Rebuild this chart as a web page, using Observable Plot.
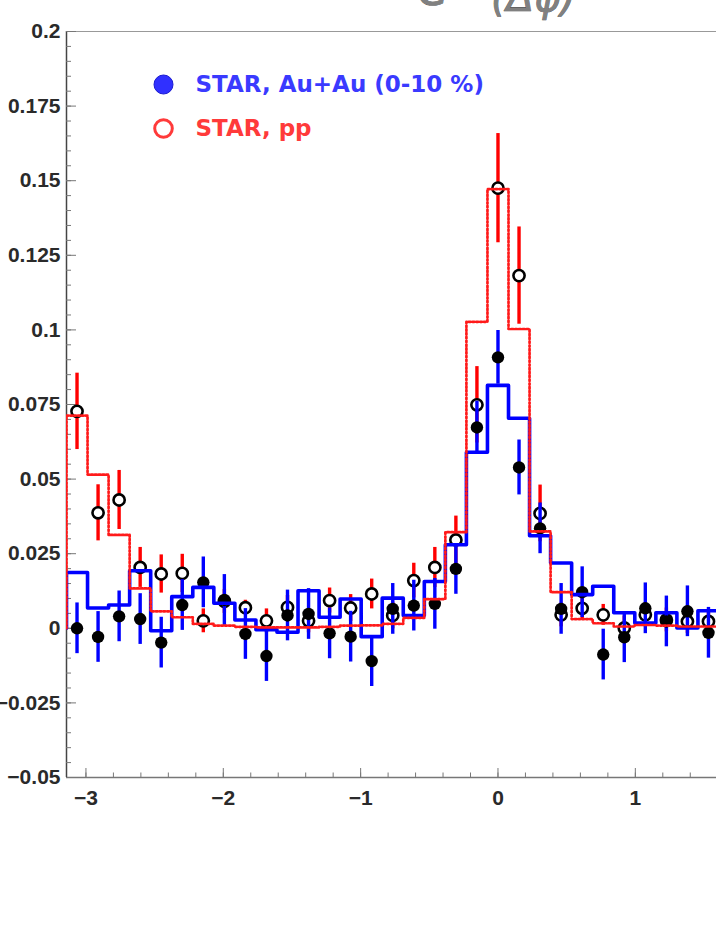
<!DOCTYPE html>
<html><head><meta charset="utf-8">
<script src="https://cdn.jsdelivr.net/npm/d3@7"></script>
<script src="https://cdn.jsdelivr.net/npm/@observablehq/plot@0.6"></script>
<style>html,body{margin:0;padding:0;background:#fff;overflow:hidden}</style>
</head><body><div id="chart"></div>
<script>
// Δφ histogram: 41 bins over 2π, centre bin at 0; first 31 bins visible
const nBinsFull = 41;
const binIndex = d3.range(31);

// STAR Au+Au (0-10%) points and errors
const auau = [0.0000,-0.0029,0.0040,0.0031,-0.0048,0.0078,0.0154,0.0095,-0.0019,-0.0093,
  0.0043,0.0048,-0.0017,-0.0028,-0.0110,0.0065,0.0076,0.0082,0.0199,0.0673,
  0.0908,0.0539,0.0335,0.0065,0.0121,-0.0088,-0.0030,0.0067,0.0023,0.0057,-0.0015];
const auauErr = [0.0085,0.0085,0.0085,0.0085,0.0085,0.0085,0.0085,0.0085,0.0085,0.0085,
  0.0085,0.0085,0.0085,0.0085,0.0085,0.0085,0.0085,0.0085,0.0085,0.0088,
  0.0090,0.0092,0.0085,0.0085,0.0085,0.0085,0.0085,0.0085,0.0085,0.0085,0.0085];

// STAR pp points and errors
const pp = [0.0727,0.0387,0.0430,0.0204,0.0182,0.0184,0.0025,0.0090,0.0069,0.0025,
  0.0070,0.0025,0.0093,0.0068,0.0115,0.0043,0.0160,0.0204,0.0296,0.0749,
  0.1475,0.1182,0.0385,0.0045,0.0067,0.0045,0.0001,0.0045,0.0028,0.0023,0.0023];
const ppErr = [0.0128,0.0094,0.0099,0.0067,0.0064,0.0064,0.0040,0.0040,0.0025,0.0040,
  0.0040,0.0040,0.0042,0.0045,0.0050,0.0045,0.0058,0.0067,0.0080,0.0128,
  0.0183,0.0163,0.0095,0.0040,0.0040,0.0035,0.0040,0.0040,0.0040,0.0040,0.0040];

// Model histograms
const auauHist = [0.0187,0.0068,0.0078,0.0193,-0.0008,0.0106,0.0137,0.0084,0.0028,-0.0005,
  -0.0013,0.0126,0.0037,0.0098,-0.0028,0.0101,0.0043,0.0157,0.0280,0.0590,
  0.0814,0.0704,0.0310,0.0219,0.0113,0.0141,0.0052,0.0018,0.0052,0.0001,0.0059];
const ppHist = [0.0713,0.0515,0.0313,0.0134,0.0057,0.0037,0.0015,0.0009,0.0005,0.0003,
  0.0003,0.0003,0.0005,0.0009,0.0010,0.0015,0.0035,0.0098,0.0322,0.1027,
  0.1472,0.1003,0.0325,0.0121,0.0031,0.0017,0.0006,0.0011,0.0009,0.0006,0.0006];

// Axis ticks
const yMajor = [-0.05,-0.025,0,0.025,0.05,0.075,0.1,0.125,0.15,0.175,0.2];
const yMinor = d3.range(-50,201,5).map(v => v/1000);
const xMajor = [-3,-2,-1,0,1];
const xMinor = d3.range(-30,15,2).map(v => v/10);

const legendLabels = ["STAR, Au+Au (0-10 %)", "STAR, pp"];
const titleParts = ["C", "(Δφ)"];

const W = 716, H = 926, mL = 66, mT = 31, mB = 149, mR = 0;
const xMin = -Math.PI, xMax = 1.591;
const binW = 2*Math.PI/nBinsFull;
const center = k => -Math.PI + (k+0.5)*binW;
const edge = k => -Math.PI + k*binW;

const pts = binIndex.map(k => ({x:center(k), au:auau[k], auE:auauErr[k], pp:pp[k], ppE:ppErr[k]}));
function stepData(vals){
  const s = [{x:edge(0), y:0}];
  vals.forEach((v,k)=> s.push({x:edge(k), y:v}));
  s.push({x:edge(vals.length), y:vals[vals.length-1]});
  return s;
}
const frameW = W - mL - mR, frameH = H - mT - mB;
const fmt = d => d === 0 ? "0" : String(+d.toFixed(3)).replace("-", "\u2212");

const plot = Plot.plot({
  width: W, height: H,
  marginLeft: mL, marginTop: mT, marginBottom: mB, marginRight: mR,
  x: {domain: [xMin, xMax]},
  y: {domain: [-0.05, 0.2]},
  style: {fontFamily: "Liberation Sans, Arial, sans-serif", fontSize: "21px", color: "#222", background: "#fff"},
  marks: [
    // frame lines
    Plot.ruleY([0.2], {stroke: "#999", strokeWidth: 1.2}),
    Plot.ruleY([-0.05], {stroke: "#777", strokeWidth: 1.5}),
    Plot.ruleX([xMin], {stroke: "#444", strokeWidth: 1.5}),
    // inward ticks
    Plot.tickY(yMinor, {y: d=>d, stroke: "#777", insetRight: frameW - 5}),
    Plot.tickY(yMajor, {y: d=>d, stroke: "#777", insetRight: frameW - 10}),
    Plot.tickX(xMinor, {x: d=>d, stroke: "#777", insetTop: frameH - 4.5}),
    Plot.tickX(xMajor, {x: d=>d, stroke: "#777", insetTop: frameH - 9}),
    Plot.axisY({ticks: yMajor, tickSize: 0, tickPadding: 6, tickFormat: fmt, label: null, fill: "#2a2a2a", fontWeight: "bold"}),
    Plot.axisX({ticks: xMajor, tickSize: 0, tickPadding: 13, tickFormat: fmt, label: null, fill: "#2a2a2a", fontWeight: "bold"}),
    // pp points
    Plot.ruleX(pts, {x: "x", y1: d=>d.pp-d.ppE, y2: d=>d.pp+d.ppE, stroke: "#ff0000", strokeWidth: 3.4}),
    Plot.dot(pts, {x: "x", y: "pp", r: 5.6, stroke: "#000", strokeWidth: 2.6, fill: "#fff"}),
    // Au+Au points
    Plot.ruleX(pts, {x: "x", y1: d=>d.au-d.auE, y2: d=>d.au+d.auE, stroke: "#0000ff", strokeWidth: 3.4}),
    Plot.dot(pts, {x: "x", y: "au", r: 6.2, fill: "#000"}),
    // histograms
    Plot.line(stepData(auauHist), {x: "x", y: "y", curve: "step-after", stroke: "#0000ff", strokeWidth: 3.6, clip: true}),
    Plot.line(stepData(ppHist), {x: "x", y: "y", curve: "step-after", stroke: "#ff1a1a", strokeWidth: 2.7, strokeDasharray: "1.8,2", clip: true}),
    // legend
    Plot.dot([0], {frameAnchor: "top-left", dx: 97, dy: 53, r: 9.5, fill: "#3030ff", stroke: "#1a1ad0", strokeWidth: 1}),
    Plot.dot([0], {frameAnchor: "top-left", dx: 97, dy: 97, r: 8.8, fill: "none", stroke: "#ff3a3a", strokeWidth: 3}),
    Plot.text([legendLabels[0]], {frameAnchor: "top-left", dx: 129, dy: 53, textAnchor: "start", lineAnchor: "middle", fill: "#3a3aff", fontSize: 23, fontWeight: "bold", fontFamily: "DejaVu Sans", ariaLabel: "legend"}),
    Plot.text([legendLabels[1]], {frameAnchor: "top-left", dx: 129, dy: 97, textAnchor: "start", lineAnchor: "middle", fill: "#ff3a3a", fontSize: 23, fontWeight: "bold", fontFamily: "DejaVu Sans", ariaLabel: "legend"}),
    // partially visible title
    Plot.text([titleParts[0]], {frameAnchor: "top-left", dx: 366, dy: -27, textAnchor: "middle", lineAnchor: "bottom", fill: "#808080", stroke: "#444", strokeWidth: 0.6, fontSize: 44, fontStyle: "italic", fontFamily: "DejaVu Sans"}),
    Plot.text([titleParts[1]], {frameAnchor: "top-left", dx: 467, dy: -21, textAnchor: "middle", lineAnchor: "bottom", fill: "#808080", stroke: "#333", strokeWidth: 0.6, fontSize: 40, fontStyle: "italic", fontFamily: "DejaVu Sans"})
  ]
});
d3.select(plot).selectAll('g[aria-label="legend"] text').attr("letter-spacing", "0.8px");
document.getElementById("chart").appendChild(plot);
</script></body></html>
